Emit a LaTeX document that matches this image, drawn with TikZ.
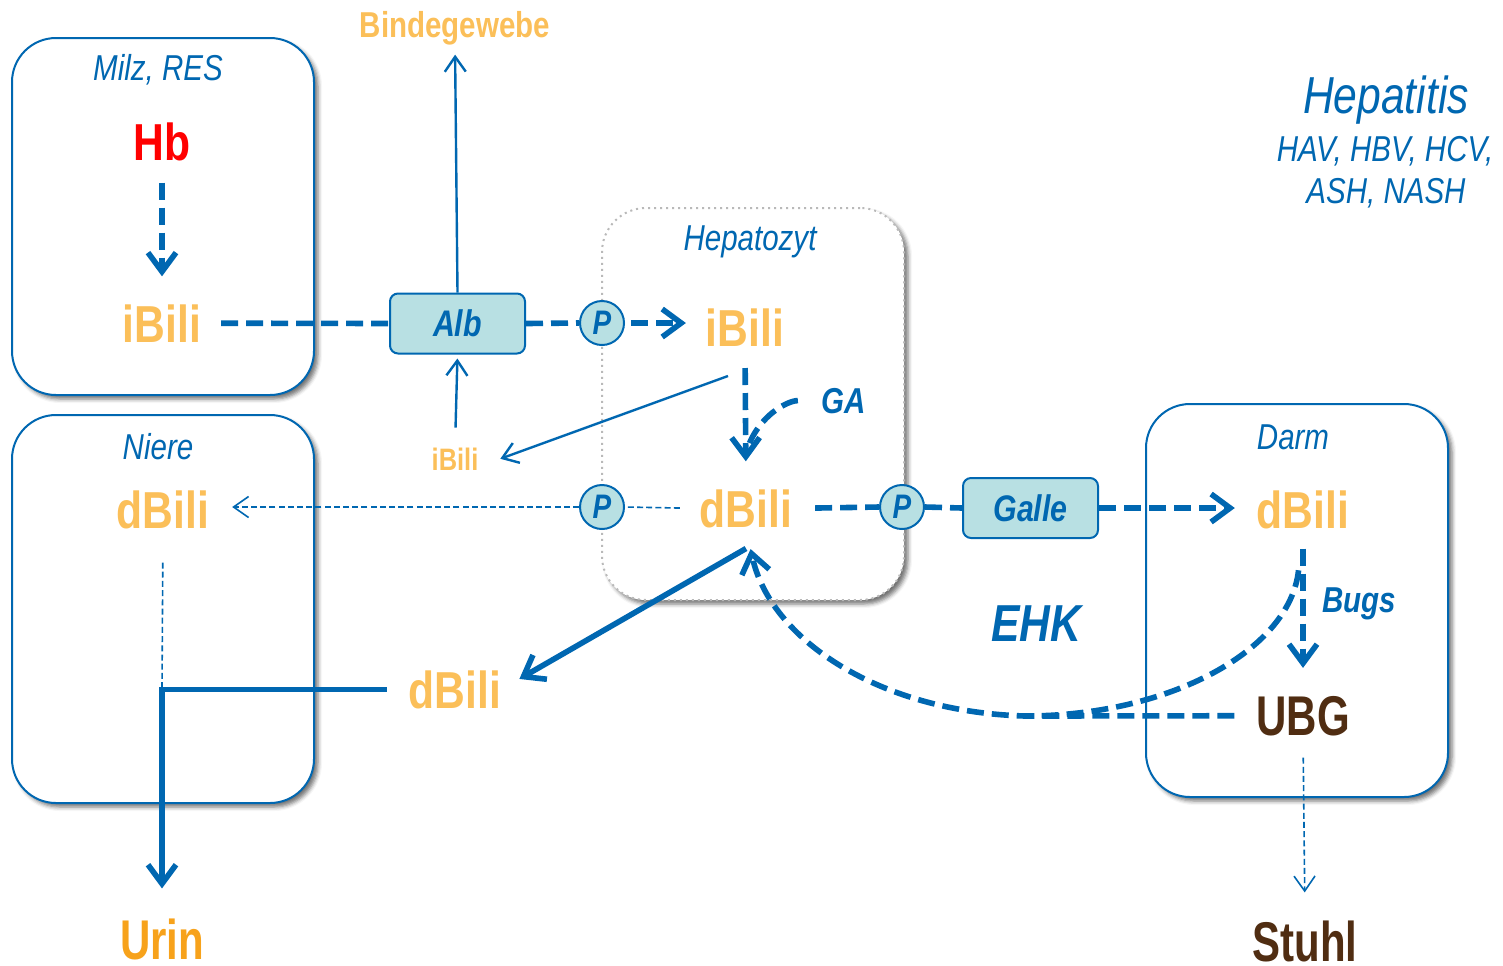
\documentclass[tikz,border=0pt]{standalone}
\usepackage{fontspec}
\newfontfamily\nar[FakeStretch=0.82]{Liberation Sans}
\newfontfamily\narx[FakeStretch=0.75]{Liberation Sans}
\usetikzlibrary{arrows.meta,shadows.blur,calc}
\definecolor{bl}{HTML}{0067B1}
\definecolor{bilio}{HTML}{FBBF59}
\definecolor{urino}{HTML}{F7A21B}
\definecolor{brn}{HTML}{502D12}
\definecolor{cyf}{HTML}{B8E0E3}
\newcommand\fsz[1]{\fontsize{#1}{#1}\selectfont}
\begin{document}
\begin{tikzpicture}[x=0.5pt,y=-0.5pt,
  bigbox/.style={draw=bl, line width=1pt, rounded corners=22pt, fill=white,
    blur shadow={shadow xshift=2pt, shadow yshift=-2pt, shadow blur radius=2pt, shadow opacity=55}},
  hepbox/.style={draw=gray!55, line width=1pt, dash pattern=on 1pt off 2pt, rounded corners=22pt, fill=white,
    blur shadow={shadow xshift=2pt, shadow yshift=-2pt, shadow blur radius=2pt, shadow opacity=55}},
  txt/.style={inner sep=0pt, outer sep=0pt},
  ttl/.style={txt, text=bl, font=\nar\itshape\fsz{18}},
  bili/.style={txt, text=bilio, font=\nar\bfseries\fsz{26}},
  smallbili/.style={txt, text=bilio, font=\nar\bfseries\fsz{15.5}},
  hbtxt/.style={txt, text=red, font=\nar\bfseries\fsz{26}},
  bindeg/.style={txt, text=bilio, font=\nar\bfseries\fsz{18}},
  lbl/.style={txt, text=bl, font=\nar\bfseries\itshape\fsz{18}},
  ehktxt/.style={txt, text=bl, font=\nar\bfseries\itshape\fsz{26}},
  brtxt/.style={txt, text=brn, font=\narx\bfseries\fsz{28}},
  urintxt/.style={txt, text=urino, font=\narx\bfseries\fsz{28}},
  hep1/.style={txt, text=bl, font=\nar\itshape\fsz{26}},
  hep2/.style={txt, text=bl, font=\nar\itshape\fsz{18}},
  cbox/.style={draw=bl, line width=1pt, fill=cyf, rounded corners=4pt, minimum width=67.5pt, minimum height=30pt,
    inner sep=0pt, text=bl, font=\nar\bfseries\itshape\fsz{18.5}},
  pc/.style={circle, draw=bl, line width=1pt, fill=cyf, minimum size=22pt, inner sep=0pt,
    text=bl, font=\nar\bfseries\itshape\fsz{17}},
  thickdash/.style={draw=bl, line width=2.8pt, dash pattern=on 8.5pt off 4pt},
  thickhead/.style={-{Straight Barb[length=9.5pt,width=14pt]}},
  thinhead/.style={-{Straight Barb[length=7.5pt,width=10.5pt]}},
  thinarr/.style={draw=bl, line width=1.2pt, thinhead},
  thindash/.style={draw=bl, line width=0.8pt, dash pattern=on 3pt off 1.6pt},
  solidthick/.style={draw=bl, line width=2.8pt},
]
\useasboundingbox (0,0) rectangle (1503,965);

% compartments
\node[bigbox, minimum width=151pt, minimum height=178.5pt] (milz) at (163,216.5) {};
\node[bigbox, minimum width=151pt, minimum height=194pt] (niere) at (163,609) {};
\node[bigbox, minimum width=151pt, minimum height=196.5pt] (darm) at (1297,600.5) {};
\node[hepbox, minimum width=151pt, minimum height=196pt] (hep) at (753,404) {};

% texts
\node[ttl, anchor=base] (milzt) at (158,80) {Milz, RES};
\node[hbtxt, anchor=base] (hb) at (162,160) {Hb};
\node[bili, anchor=base] (ibiliM) at (162,342) {iBili};
\node[bindeg, anchor=base] (binde) at (455,37) {Bindegewebe};
\node[smallbili, anchor=base] (smalli) at (455,470) {iBili};
\node[ttl, anchor=base] (hept) at (750,250) {Hepatozyt};
\node[bili, anchor=base] (ibiliH) at (745,346) {iBili};
\node[lbl, anchor=base] (ga) at (844,413) {GA};
\node[bili, anchor=base] (dbiliH) at (746,527) {dBili};
\node[ttl, anchor=base] (darmt) at (1293,449) {Darm};
\node[bili, anchor=base] (dbiliD) at (1303,528) {dBili};
\node[lbl, anchor=base] (bugs) at (1359,612) {Bugs};
\node[brtxt, anchor=base] (ubg) at (1303,735) {UBG};
\node[ehktxt, anchor=base] (ehk) at (1036,641) {EHK};
\node[bili, anchor=base] (dbiliL) at (455,708) {dBili};
\node[ttl, anchor=base] (nieret) at (158,459) {Niere};
\node[bili, anchor=base] (dbiliN) at (163,528) {dBili};
\node[urintxt, anchor=base] (urin) at (162,959) {Urin};
\node[brtxt, anchor=base] (stuhl) at (1305,961) {Stuhl};
\node[hep1, anchor=base] (hepa) at (1386,113) {Hepatitis};
\node[hep2, anchor=base] (hav) at (1385,161) {HAV, HBV, HCV,};
\node[hep2, anchor=base] (ash) at (1386,203) {ASH, NASH};

% carriers
\node[cbox] (alb) at (457.5,323.5) {Alb};
\node[cbox] (galle) at (1030.5,508) {Galle};
\node[pc] (p1) at (602,323) {P};
\node[pc] (p2) at (602,507) {P};
\node[pc] (p3) at (902,507) {P};

% helper coordinates
\coordinate (gaend) at (748,447);
\coordinate (ehkj) at (1025,716);
\coordinate (ibout) at ($(ibiliH.south)+(-17,30)$);
\coordinate (hepout) at ($(dbiliH.south)+(0,21)$);
\coordinate (ncorner) at (dbiliL.west -| urin.north);

% Milz
\draw[thickdash, thickhead, shorten <=11pt, shorten >=14pt] (hb.south) -- (ibiliM.north);
\draw[thickdash, shorten <=10pt] (ibiliM.east) -- (alb.west);
\draw[thinarr, shorten >=5pt] (alb.north) -- (binde.south);
\draw[thinarr, shorten <=10pt, shorten >=2pt] (smalli.north) -- (alb.south);
\draw[thickdash] (alb.east) -- (p1.west);
\draw[thickdash, thickhead, shorten <=3pt, shorten >=10pt] (p1.east) -- (p1.east -| ibiliH.west);

% Hepatozyt
\draw[thickdash, thickhead, shorten <=11pt, shorten >=14pt] (ibiliH.south) -- (dbiliH.north);
\draw[thickdash, shorten <=12pt] (ga.west) to[out=180,in=70] (gaend);
\draw[thinarr] (ibout) -- ($(smalli.east)+(22,0)$);
\draw[thindash, shorten <=10pt] (dbiliH.west) -- (p2.east);
\draw[thindash, thinhead, shorten >=11.5pt] (p2.west) -- (p2.west -| dbiliN.east);
\draw[thickdash, shorten <=11.5pt] (dbiliH.east) -- (p3.west);
\draw[thickdash] (p3.east) -- (galle.west);
\draw[thickdash, thickhead, shorten >=11pt] (galle.east) -- (galle.east -| dbiliD.west);

% Darm
\draw[thickdash, thickhead, shorten <=10pt, shorten >=14pt] (dbiliD.south) -- (ubg.north);
\draw[thickdash, shorten <=11pt] (ubg.west) -- (ehkj);
\draw[thickdash, thickhead, shorten <=21pt, shorten >=11pt] (dbiliD.south)
  .. controls (1290,650) and (1170,716) .. (ehkj)
  .. controls (880,712) and (770,640) .. (dbiliH.south);
\draw[thindash, thinhead, shorten <=11pt, shorten >=14pt] (ubg.south) -- (stuhl.north);

% to kidney / urine
\draw[solidthick, thickhead, shorten >=10.5pt] (hepout) -- (dbiliL.east);
\draw[thindash, shorten <=17pt] (dbiliN.south) -- (ncorner);
\draw[solidthick, thickhead, shorten <=11pt, shorten >=15pt]
  (dbiliL.west) -- (ncorner) -- (urin.north);
\end{tikzpicture}
\end{document}
